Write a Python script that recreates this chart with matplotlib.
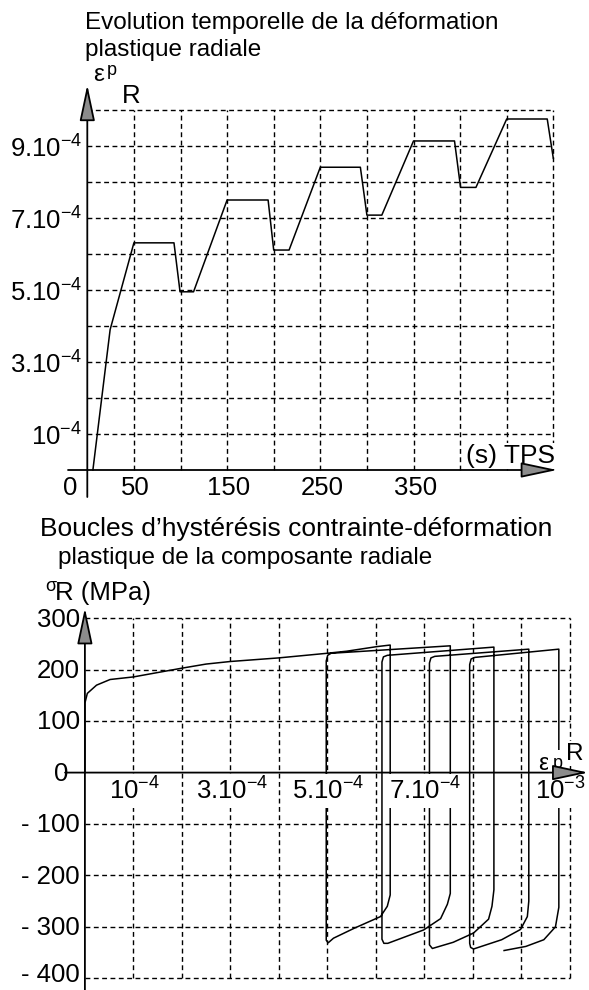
import numpy as np
import matplotlib
matplotlib.use('Agg')
from matplotlib import pyplot as plt

plt.rcParams['font.family'] = ['Liberation Sans', 'DejaVu Sans']
plt.rcParams['mathtext.fontset'] = 'custom'
plt.rcParams['mathtext.rm'] = 'Liberation Sans'
plt.rcParams['mathtext.default'] = 'regular'

# --- top chart: radial plastic strain (unit 1e-4) versus time (s)
tps = [6, 24.5, 50, 93, 99.5, 114, 150, 194, 200, 216.5, 250, 293, 300, 316,
       350, 394, 400.5, 417, 450, 493.5, 500]
eps_p = [0, 3.9, 6.31, 6.31, 4.95, 4.95, 7.5, 7.5, 6.11, 6.11, 8.41, 8.41,
         7.08, 7.08, 9.14, 9.14, 7.85, 7.85, 9.75, 9.75, 8.66]
tps_grid = [50, 100, 150, 200, 250, 300, 350, 400, 450, 500]
eps_grid = [1, 2, 3, 4, 5, 6, 7, 8, 9, 10]
tps_ticks = [0, 50, 150, 250, 350]
tps_labels = ['0', '50', '150', '250', '350']
eps_ticks = [1, 3, 5, 7, 9]
eps_labels = [r'$10^{-4}$', r'$3.10^{-4}$', r'$5.10^{-4}$', r'$7.10^{-4}$', r'$9.10^{-4}$']

# --- bottom chart: stress (MPa) versus radial plastic strain (unit 1e-4)
eps_loop = [0, 0, 0.05, 0.24, 0.52, 1.0, 2.0, 2.5, 3.0, 4.0, 5.0, 5.4, 6.03, 6.3,
            6.3, 6.24, 6.1, 5.55, 5.13, 5.02, 4.98,
            4.98, 5.01, 5.08, 7.54,
            7.54, 7.48, 7.34, 6.99, 6.25, 6.17, 6.13,
            6.13, 6.16, 6.24, 8.44,
            8.44, 8.4, 8.33, 8.02, 7.6, 7.17, 7.11,
            7.11, 7.14, 7.22, 9.16,
            9.16, 9.13, 8.99, 8.6, 8.02, 7.96, 7.94,
            7.94, 7.97, 8.05, 9.78,
            9.78, 9.71, 9.47, 9.1, 8.65]
sig_loop = [0, 135, 154, 170, 181, 186, 203, 211, 216, 223, 232, 236, 245, 248,
            -238, -260, -280, -303, -322, -331, -326,
            217, 228, 232, 246.5,
            -235, -256, -284, -306, -332, -332, -324,
            215, 225, 228, 244,
            -228, -260, -285, -312, -330, -342, -335,
            213, 223, 226, 240,
            -250, -280, -305, -325, -343, -340, -332,
            210, 221, 224, 240,
            -262, -300, -325, -338, -346]
sig_grid = [-400, -300, -200, -100, 100, 200, 300]
epsr_grid = [1, 2, 3, 4, 5, 6, 7, 8, 9, 10]
sig_ticks = [300, 200, 100, 0, -100, -200, -300, -400]
sig_labels = ['300', '200', '100', '0', '- 100', '- 200', '- 300', '- 400']
epsr_ticks = [1, 3, 5, 7, 10]
epsr_labels = [r'$10^{-4}$', r'$3.10^{-4}$', r'$5.10^{-4}$', r'$7.10^{-4}$', r'$10^{-3}$']

W, H = 589, 990
FT = 18.5   # tick labels
FS = 17.5   # titles
fig = plt.figure(figsize=(W / 100, H / 100), dpi=100)
fig.patch.set_facecolor('white')


def px(x, y):
    return x / W, 1 - y / H


dash = (0, (3.5, 2.5))
grid_kw = dict(color='k', lw=1.0, linestyle=dash, clip_on=False, zorder=1)
arrow_kw = dict(arrowstyle='-|>,head_length=1.6,head_width=0.34', lw=1.3,
                fc='0.55', ec='k', shrinkA=0, shrinkB=0, mutation_scale=14)
white = dict(fc='white', ec='none', pad=2.5)

# ---------------- top chart
ax1 = fig.add_axes([87.3 / W, 1 - 470 / H, 466 / W, 360 / H])
ax1.set_xlim(0, 500)
ax1.set_ylim(0, 10)
ax1.set_axis_off()
ax1.vlines(tps_grid, 0, 10, **grid_kw)
ax1.hlines(eps_grid, 0, 500, **grid_kw)
ax1.plot(tps, eps_p, color='k', lw=1.1, zorder=3, clip_on=False)
ax1.annotate('', xy=(0, 10.7), xytext=(0, -0.75), arrowprops=arrow_kw,
             annotation_clip=False, zorder=8)
ax1.annotate('', xy=(504, 0), xytext=(-20.7, 0), arrowprops=arrow_kw,
             annotation_clip=False, zorder=8)
for v, s in zip(tps_ticks, tps_labels):
    x = v if v > 0 else -20
    ax1.text(x + 2, -0.69, s, ha='center', va='baseline', fontsize=FT, clip_on=False)
for v, s in zip(eps_ticks, eps_labels):
    ax1.text(-5.7, v - 0.32, s, ha='right', va='baseline', fontsize=FT, clip_on=False)
ax1.text(502, 0.19, '(s) TPS', ha='right', va='baseline', fontsize=19,
         bbox=dict(fc='white', ec='none', pad=1.0), zorder=6, clip_on=False)

fig.text(*px(85, 29), 'Evolution temporelle de la déformation', fontsize=FS, va='baseline')
fig.text(*px(85, 56), 'plastique radiale', fontsize=FS, va='baseline')
fig.text(*px(93, 81), 'ε', fontsize=FS, va='baseline')
fig.text(*px(107, 75), 'p', fontsize=13, va='baseline')
fig.text(*px(122, 103), 'R', fontsize=FS + 1, va='baseline')

# ---------------- bottom chart
ax2 = fig.add_axes([84.9 / W, 1 - 978.3 / H, 484.6 / W, 360 / H])
ax2.set_xlim(0, 10)
ax2.set_ylim(-400, 300)
ax2.set_axis_off()
ax2.vlines(epsr_grid, -400, 300, **grid_kw)
ax2.hlines(sig_grid, 0, 10, **grid_kw)
ax2.plot(eps_loop, sig_loop, color='k', lw=1.1, zorder=3, clip_on=False)
ax2.annotate('', xy=(0, 320), xytext=(0, -425), arrowprops=arrow_kw,
             annotation_clip=False, zorder=8)
ax2.annotate('', xy=(10.39, 0), xytext=(-0.41, 0), arrowprops=arrow_kw,
             annotation_clip=False, zorder=8)
for v, s in zip(sig_ticks, sig_labels):
    x = -0.1 if v != 0 else -0.35
    y = max(v - 16, -408)
    ax2.text(x, y, s, ha='right', va='baseline', fontsize=FT, clip_on=False)
for v, s in zip(epsr_ticks, epsr_labels):
    if v == 10:
        ax2.text(10.33, -53, s, ha='right', va='baseline', fontsize=FT,
                 bbox=white, zorder=6, clip_on=False)
    else:
        ax2.text(v + 0.03, -53, s, ha='center', va='baseline', fontsize=FT,
                 bbox=white, zorder=6, clip_on=False)

# axis name of the strain axis, sitting over the last loop
ax2.text(9.36, 5, 'ε', fontsize=FS, va='baseline', clip_on=False,
         bbox=dict(fc='white', ec='none', pad=1.0), zorder=6)
ax2.text(9.65, 9, 'p', fontsize=13, va='baseline', clip_on=False,
         bbox=dict(fc='white', ec='none', pad=3.5), zorder=6)
ax2.text(9.92, 25, 'R', fontsize=FS, va='baseline', clip_on=False,
         bbox=dict(fc='white', ec='none', pad=1.0), zorder=6)

fig.text(*px(40, 536), 'Boucles d’hystérésis contrainte-déformation', fontsize=19, va='baseline')
fig.text(*px(58, 564), 'plastique de la composante radiale', fontsize=FS, va='baseline')
fig.text(*px(45, 591), 'σ', fontsize=13, va='baseline')
fig.text(*px(55, 600), 'R (MPa)', fontsize=FT, va='baseline')

plt.savefig('out.png', dpi=100)
